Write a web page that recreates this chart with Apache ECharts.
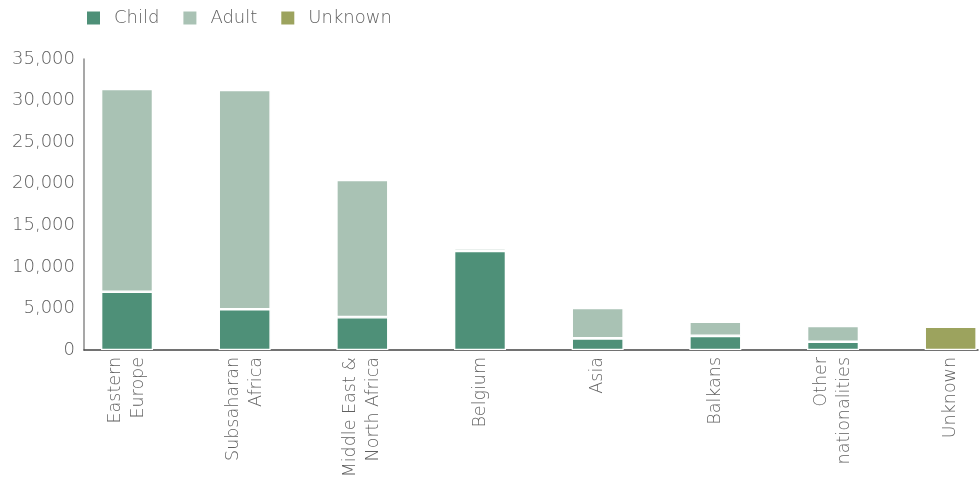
<!DOCTYPE html>
<html>
<head>
<meta charset="utf-8">
<script src="https://cdn.jsdelivr.net/npm/echarts@6/dist/echarts.min.js"></script>
<style>html,body{margin:0;padding:0;background:#fff}#c{width:980px;height:482px}</style>
</head>
<body>
<div id="c"></div>
<script>
var categories = ['Eastern\nEurope', 'Subsaharan\nAfrica', 'Middle East &\nNorth Africa', 'Belgium', 'Asia', 'Balkans', 'Other\nnationalities', 'Unknown'];
var childValues = [7000, 4900, 3950, 11900, 1400, 1700, 1000, null];
var adultValues = [24400, 26370, 16500, 340, 3650, 1700, 1900, null];
var unknownValues = [null, null, null, null, null, null, null, 2800];
var yTicks = [0, 5000, 10000, 15000, 20000, 25000, 30000, 35000];

var FONT = '"DejaVu Sans", sans-serif';
var TXT = '#606060';
var chart = echarts.init(document.getElementById('c'), null, {renderer: 'canvas'});
var barStyle = function (c) { return {color: c, borderColor: '#ffffff', borderWidth: 1.3}; };
chart.setOption({
  animation: false,
  legend: {
    data: ['Child', 'Adult', 'Unknown'],
    left: 85, top: 9, padding: 0,
    itemWidth: 15, itemHeight: 15, itemGap: 22,
    icon: 'rect',
    textStyle: {fontFamily: FONT, fontSize: 18, fontWeight: 200, color: TXT, padding: [0, 0, 0, 8]}
  },
  grid: [
    {left: 68.2, width: 941.3, top: 59, bottom: 132, outerBoundsMode: 'none', containLabel: false},
    {left: 84, right: 2, top: 59, bottom: 132, outerBoundsMode: 'none', containLabel: false}
  ],
  xAxis: [
    {
      type: 'category', gridIndex: 0, data: categories,
      axisLine: {show: false}, axisTick: {show: false},
      axisLabel: {rotate: 90, margin: 7, fontFamily: FONT, fontSize: 17.5, fontWeight: 200, color: TXT, lineHeight: 23, interval: 0}
    },
    {
      type: 'value', gridIndex: 1, min: 0, max: 1,
      axisLine: {show: true, lineStyle: {color: '#444444', width: 1.5}},
      axisTick: {show: false}, axisLabel: {show: false}, splitLine: {show: false}
    }
  ],
  yAxis: [
    {type: 'value', gridIndex: 0, min: 0, max: 35000, interval: 5000, show: false},
    {
      type: 'value', gridIndex: 1, min: 0, max: 35000, interval: 5000,
      axisLine: {show: true, lineStyle: {color: '#8a8a8a', width: 1.5}},
      axisTick: {show: false}, splitLine: {show: false},
      axisLabel: {margin: 9, fontFamily: FONT, fontSize: 18, fontWeight: 200, color: TXT,
        formatter: function (v) { return yTicks.indexOf(v) >= 0 ? v.toLocaleString('en-US') : ''; }}
    }
  ],
  series: [
    {name: 'Child', type: 'bar', stack: 's', xAxisIndex: 0, yAxisIndex: 0, barWidth: 52, data: childValues, itemStyle: barStyle('#4e9078')},
    {name: 'Adult', type: 'bar', stack: 's', xAxisIndex: 0, yAxisIndex: 0, barWidth: 52, data: adultValues, itemStyle: barStyle('#a9c2b4')},
    {name: 'Unknown', type: 'bar', stack: 's', xAxisIndex: 0, yAxisIndex: 0, barWidth: 52, data: unknownValues, itemStyle: barStyle('#9ca35e')}
  ]
});
</script>
</body>
</html>
